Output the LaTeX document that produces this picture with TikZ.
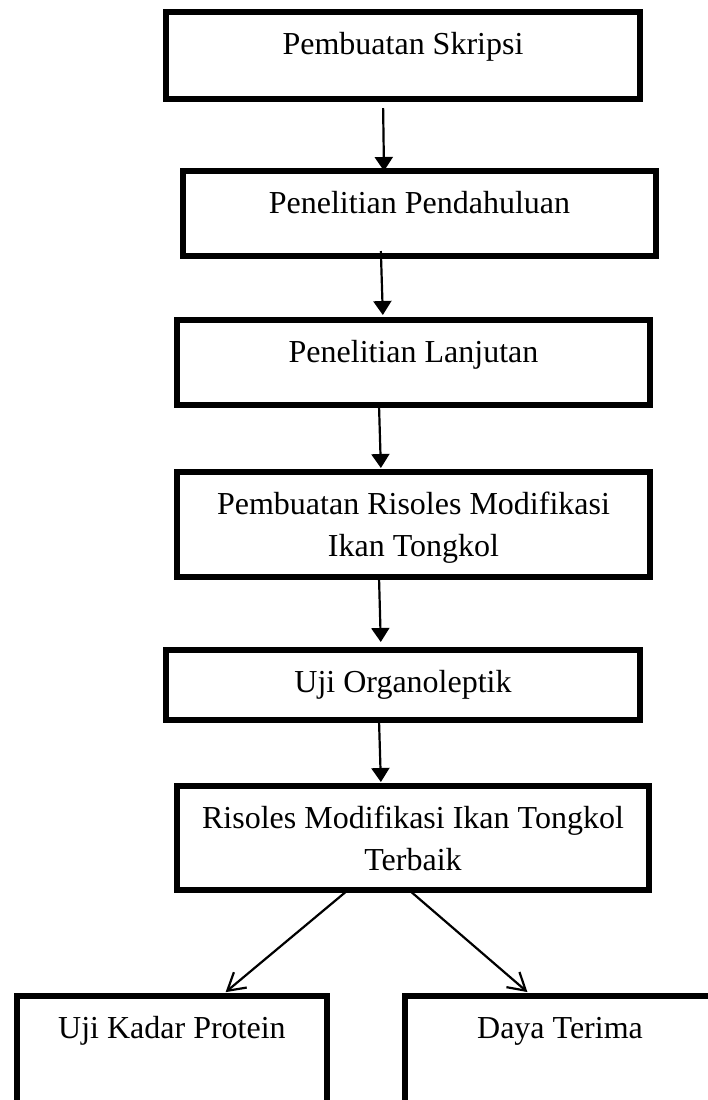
\documentclass[tikz,border=0pt]{standalone}
\usepackage{fontspec}
\setmainfont{Liberation Serif}
\usetikzlibrary{arrows.meta}

\begin{document}
\begin{tikzpicture}[x=0.5pt,y=-0.5pt,
            stepbox/.style={draw,line width=3pt,inner sep=0pt,outer sep=0pt,anchor=north west,
              align=flush center,text height=21pt,font=\fontsize{16}{21}\selectfont},
            flow/.style={line width=1.1pt,-{Triangle[length=7pt,width=9pt]}},
            split/.style={line width=1.1pt,-{Straight Barb[length=8.5pt,width=10pt,line width=1.1pt]}}]
            \useasboundingbox (0,0) rectangle (708,1100);
            \clip (0,0) rectangle (708,1100);
            \node[stepbox,text width=237pt,text depth=22.5pt] (skripsi) at (166,12) {Pembuatan Skripsi};
            \node[stepbox,text width=236.5pt,text depth=21.5pt] (pendahuluan) at (183,171) {Penelitian Pendahuluan};
            \node[stepbox,text width=236.5pt,text depth=21.5pt] (lanjutan) at (177,320) {Penelitian Lanjutan};
            \node[stepbox,text width=236.5pt,text depth=31.5pt] (risoles) at (177,472) {Pembuatan Risoles Modifikasi\\Ikan Tongkol};
            \node[stepbox,text width=237pt,text depth=14pt] (organoleptik) at (166,650) {Uji Organoleptik};
            \node[stepbox,text width=236pt,text depth=31pt] (terbaik) at (177,786) {Risoles Modifikasi Ikan Tongkol\\Terbaik};
            \node[stepbox,text width=155pt,text depth=61pt] (protein) at (17,996) {Uji Kadar Protein};
            \node[stepbox,text width=155pt,text depth=61pt] (daya) at (405,996) {Daya Terima};
            \draw[flow,shorten <=4.5pt] ([xshift=-10pt]skripsi.south) -- ([xshift=-17.75pt]pendahuluan.north);
            \draw[flow,shorten <=-2.5pt,shorten >=2.5pt] ([xshift=-19.25pt]pendahuluan.south) -- ([xshift=-15.25pt]lanjutan.north);
            \draw[flow,shorten <=1.5pt,shorten >=2pt] ([xshift=-17.25pt]lanjutan.south) -- ([xshift=-16.25pt]risoles.north);
            \draw[flow,shorten <=1.5pt,shorten >=4pt] ([xshift=-17.25pt]risoles.south) -- ([xshift=-11pt]organoleptik.north);
            \draw[flow,shorten <=1.5pt,shorten >=2pt] ([xshift=-12pt]organoleptik.south) -- ([xshift=-16pt]terbaik.north);
            \draw[split,shorten >=3pt] ([xshift=-32.5pt]terbaik.south) -- ([xshift=24.5pt]protein.north);
            \draw[split,shorten >=3pt] ([xshift=-2pt]terbaik.south) -- ([xshift=-14pt]daya.north);
        \end{tikzpicture}
\end{document}
